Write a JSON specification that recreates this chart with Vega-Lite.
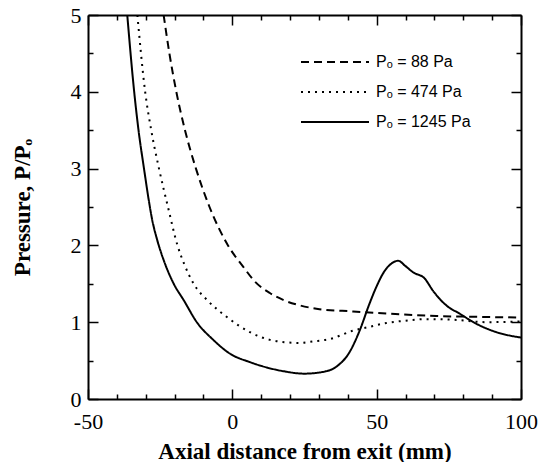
{
  "$schema": "https://vega.github.io/schema/vega-lite/v6.json",
  "width": 433,
  "height": 384,
  "autosize": {"type": "none"},
  "padding": {"left": 88, "top": 15, "right": 22, "bottom": 63},
  "background": "white",
  "config": {"view": {"stroke": null}, "font": "Liberation Serif"},
  "data": {
    "values": [
      {"series": "Pₒ = 88 Pa", "mm": -23.8, "pressure": 5.0},
      {"series": "Pₒ = 88 Pa", "mm": -21.8, "pressure": 4.5},
      {"series": "Pₒ = 88 Pa", "mm": -19.4, "pressure": 4.0},
      {"series": "Pₒ = 88 Pa", "mm": -16.4, "pressure": 3.5},
      {"series": "Pₒ = 88 Pa", "mm": -12.6, "pressure": 3.0},
      {"series": "Pₒ = 88 Pa", "mm": -7.9, "pressure": 2.5},
      {"series": "Pₒ = 88 Pa", "mm": -1.5, "pressure": 2.0},
      {"series": "Pₒ = 88 Pa", "mm": 3.8, "pressure": 1.72},
      {"series": "Pₒ = 88 Pa", "mm": 7.8, "pressure": 1.53},
      {"series": "Pₒ = 88 Pa", "mm": 13.0, "pressure": 1.38},
      {"series": "Pₒ = 88 Pa", "mm": 17.6, "pressure": 1.29},
      {"series": "Pₒ = 88 Pa", "mm": 23.3, "pressure": 1.22},
      {"series": "Pₒ = 88 Pa", "mm": 30.2, "pressure": 1.17},
      {"series": "Pₒ = 88 Pa", "mm": 41.8, "pressure": 1.14},
      {"series": "Pₒ = 88 Pa", "mm": 50.0, "pressure": 1.12},
      {"series": "Pₒ = 88 Pa", "mm": 59.1, "pressure": 1.10},
      {"series": "Pₒ = 88 Pa", "mm": 70.7, "pressure": 1.08},
      {"series": "Pₒ = 88 Pa", "mm": 85.0, "pressure": 1.07},
      {"series": "Pₒ = 88 Pa", "mm": 100.0, "pressure": 1.06},

      {"series": "Pₒ = 474 Pa", "mm": -32.9, "pressure": 5.0},
      {"series": "Pₒ = 474 Pa", "mm": -30.2, "pressure": 4.0},
      {"series": "Pₒ = 474 Pa", "mm": -28.1, "pressure": 3.5},
      {"series": "Pₒ = 474 Pa", "mm": -25.4, "pressure": 3.0},
      {"series": "Pₒ = 474 Pa", "mm": -22.3, "pressure": 2.5},
      {"series": "Pₒ = 474 Pa", "mm": -19.0, "pressure": 2.0},
      {"series": "Pₒ = 474 Pa", "mm": -16.6, "pressure": 1.75},
      {"series": "Pₒ = 474 Pa", "mm": -13.4, "pressure": 1.5},
      {"series": "Pₒ = 474 Pa", "mm": -8.5, "pressure": 1.28},
      {"series": "Pₒ = 474 Pa", "mm": -2.0, "pressure": 1.07},
      {"series": "Pₒ = 474 Pa", "mm": 6.1, "pressure": 0.87},
      {"series": "Pₒ = 474 Pa", "mm": 13.0, "pressure": 0.77},
      {"series": "Pₒ = 474 Pa", "mm": 18.0, "pressure": 0.74},
      {"series": "Pₒ = 474 Pa", "mm": 23.3, "pressure": 0.73},
      {"series": "Pₒ = 474 Pa", "mm": 28.0, "pressure": 0.75},
      {"series": "Pₒ = 474 Pa", "mm": 33.7, "pressure": 0.78},
      {"series": "Pₒ = 474 Pa", "mm": 41.8, "pressure": 0.89},
      {"series": "Pₒ = 474 Pa", "mm": 47.5, "pressure": 0.94},
      {"series": "Pₒ = 474 Pa", "mm": 53.4, "pressure": 0.99},
      {"series": "Pₒ = 474 Pa", "mm": 60.0, "pressure": 1.02},
      {"series": "Pₒ = 474 Pa", "mm": 67.2, "pressure": 1.04},
      {"series": "Pₒ = 474 Pa", "mm": 77.6, "pressure": 1.03},
      {"series": "Pₒ = 474 Pa", "mm": 88.0, "pressure": 1.0},
      {"series": "Pₒ = 474 Pa", "mm": 100.0, "pressure": 1.01},

      {"series": "Pₒ = 1245 Pa", "mm": -36.4, "pressure": 5.0},
      {"series": "Pₒ = 1245 Pa", "mm": -34.0, "pressure": 4.0},
      {"series": "Pₒ = 1245 Pa", "mm": -32.5, "pressure": 3.5},
      {"series": "Pₒ = 1245 Pa", "mm": -30.6, "pressure": 3.0},
      {"series": "Pₒ = 1245 Pa", "mm": -29.0, "pressure": 2.6},
      {"series": "Pₒ = 1245 Pa", "mm": -27.8, "pressure": 2.34},
      {"series": "Pₒ = 1245 Pa", "mm": -26.1, "pressure": 2.08},
      {"series": "Pₒ = 1245 Pa", "mm": -23.8, "pressure": 1.81},
      {"series": "Pₒ = 1245 Pa", "mm": -20.3, "pressure": 1.5},
      {"series": "Pₒ = 1245 Pa", "mm": -16.9, "pressure": 1.29},
      {"series": "Pₒ = 1245 Pa", "mm": -12.3, "pressure": 1.0},
      {"series": "Pₒ = 1245 Pa", "mm": -6.6, "pressure": 0.77},
      {"series": "Pₒ = 1245 Pa", "mm": -0.8, "pressure": 0.59},
      {"series": "Pₒ = 1245 Pa", "mm": 6.1, "pressure": 0.48},
      {"series": "Pₒ = 1245 Pa", "mm": 12.0, "pressure": 0.41},
      {"series": "Pₒ = 1245 Pa", "mm": 18.0, "pressure": 0.36},
      {"series": "Pₒ = 1245 Pa", "mm": 25.0, "pressure": 0.33},
      {"series": "Pₒ = 1245 Pa", "mm": 31.0, "pressure": 0.35},
      {"series": "Pₒ = 1245 Pa", "mm": 36.0, "pressure": 0.42},
      {"series": "Pₒ = 1245 Pa", "mm": 40.6, "pressure": 0.61},
      {"series": "Pₒ = 1245 Pa", "mm": 44.1, "pressure": 0.89},
      {"series": "Pₒ = 1245 Pa", "mm": 47.5, "pressure": 1.24},
      {"series": "Pₒ = 1245 Pa", "mm": 49.9, "pressure": 1.46},
      {"series": "Pₒ = 1245 Pa", "mm": 52.8, "pressure": 1.67},
      {"series": "Pₒ = 1245 Pa", "mm": 55.0, "pressure": 1.76},
      {"series": "Pₒ = 1245 Pa", "mm": 57.4, "pressure": 1.80},
      {"series": "Pₒ = 1245 Pa", "mm": 60.0, "pressure": 1.73},
      {"series": "Pₒ = 1245 Pa", "mm": 62.6, "pressure": 1.65},
      {"series": "Pₒ = 1245 Pa", "mm": 66.6, "pressure": 1.57},
      {"series": "Pₒ = 1245 Pa", "mm": 69.5, "pressure": 1.41},
      {"series": "Pₒ = 1245 Pa", "mm": 74.1, "pressure": 1.22},
      {"series": "Pₒ = 1245 Pa", "mm": 78.8, "pressure": 1.11},
      {"series": "Pₒ = 1245 Pa", "mm": 84.5, "pressure": 0.98},
      {"series": "Pₒ = 1245 Pa", "mm": 91.5, "pressure": 0.87},
      {"series": "Pₒ = 1245 Pa", "mm": 100.0, "pressure": 0.80}
    ]
  },
  "layer": [
    {
      "mark": {"type": "line", "interpolate": "monotone", "color": "black", "strokeWidth": 2, "clip": true},
      "encoding": {
        "x": {
          "field": "mm", "type": "quantitative",
          "scale": {"domain": [-50, 100], "nice": false, "zero": false},
          "axis": {
            "orient": "bottom",
            "values": [-50, -40, -30, -20, -10, 0, 10, 20, 30, 40, 50, 60, 70, 80, 90, 100],
            "labelExpr": "datum.value % 50 === 0 ? toString(datum.value) : ''",
            "labelOverlap": false, "labelFlush": false,
            "tickSize": {"condition": {"test": "datum.value % 50 === 0", "value": -10}, "value": -5},
            "tickColor": "black", "tickWidth": 1.5,
            "domainColor": "black", "domainWidth": 2,
            "grid": false,
            "labelFont": "Liberation Serif", "labelFontSize": 22, "labelColor": "black", "labelPadding": 22,
            "title": "Axial distance from exit (mm)",
            "titleFont": "Liberation Serif", "titleFontSize": 23, "titleFontWeight": "bold", "titleColor": "black", "titlePadding": 3
          }
        },
        "y": {
          "field": "pressure", "type": "quantitative",
          "scale": {"domain": [0, 5], "nice": false},
          "axis": {
            "orient": "left",
            "values": [0, 0.5, 1, 1.5, 2, 2.5, 3, 3.5, 4, 4.5, 5],
            "labelExpr": "datum.value % 1 === 0 ? toString(datum.value) : ''",
            "labelOverlap": false, "labelFlush": false,
            "tickSize": {"condition": {"test": "datum.value % 1 === 0", "value": -10}, "value": -5},
            "tickColor": "black", "tickWidth": 1.5,
            "domainColor": "black", "domainWidth": 2,
            "grid": false,
            "labelFont": "Liberation Serif", "labelFontSize": 22, "labelColor": "black", "labelPadding": 17,
            "title": "Pressure, P/Pₒ",
            "titleFont": "Liberation Serif", "titleFontSize": 23, "titleFontWeight": "bold", "titleColor": "black", "titlePadding": 36
          }
        },
        "strokeDash": {
          "field": "series", "type": "nominal",
          "scale": {"domain": ["Pₒ = 88 Pa", "Pₒ = 474 Pa", "Pₒ = 1245 Pa"], "range": [[8, 5], [2, 5], [1, 0]]},
          "legend": {
            "orient": "none", "legendX": 212, "legendY": 39, "title": null, "padding": 0,
            "symbolType": "stroke", "symbolSize": 4624, "symbolStrokeWidth": 2, "symbolStrokeColor": "black",
            "clipHeight": 16, "rowPadding": 14, "labelOffset": 6,
            "labelFont": "Liberation Sans", "labelFontSize": 16, "labelColor": "black", "labelLimit": 300
          }
        }
      }
    },
    {
      "mark": {"type": "line", "strokeOpacity": 0},
      "encoding": {
        "x": {
          "field": "mm", "type": "quantitative",
          "axis": {
            "orient": "top",
            "values": [-50, -40, -30, -20, -10, 0, 10, 20, 30, 40, 50, 60, 70, 80, 90, 100],
            "labels": false, "title": null, "grid": false,
            "tickSize": {"condition": {"test": "datum.value % 50 === 0", "value": -10}, "value": -5},
            "tickColor": "black", "tickWidth": 1.5,
            "domainColor": "black", "domainWidth": 2
          }
        },
        "y": {
          "field": "pressure", "type": "quantitative",
          "axis": {
            "orient": "right",
            "values": [0, 0.5, 1, 1.5, 2, 2.5, 3, 3.5, 4, 4.5, 5],
            "labels": false, "title": null, "grid": false,
            "tickSize": {"condition": {"test": "datum.value % 1 === 0", "value": -10}, "value": -5},
            "tickColor": "black", "tickWidth": 1.5,
            "domainColor": "black", "domainWidth": 2
          }
        }
      }
    }
  ],
  "resolve": {"axis": {"x": "independent", "y": "independent"}}
}
